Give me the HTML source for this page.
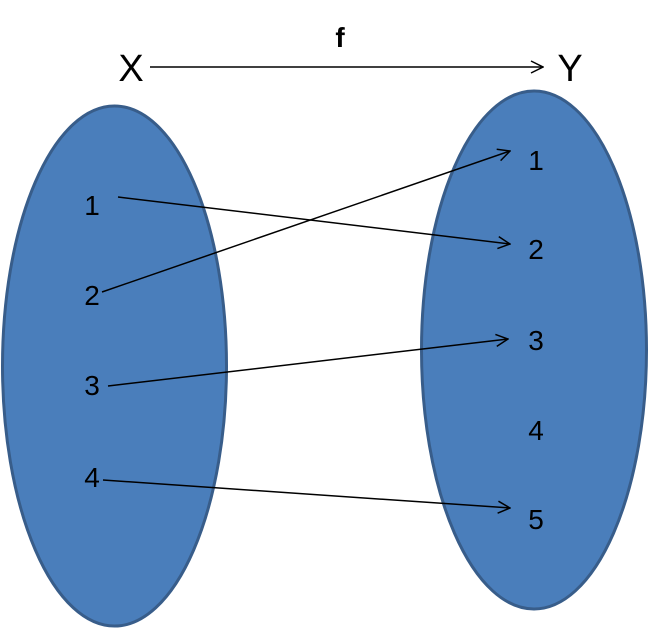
<!DOCTYPE html>
<html><head><style>body{margin:0;background:#fff}</style></head><body>
<svg width="649" height="629" xmlns="http://www.w3.org/2000/svg" font-family="Liberation Sans, sans-serif">
<defs><marker id="a" markerWidth="14" markerHeight="14" refX="13" refY="7" orient="auto" markerUnits="userSpaceOnUse"><path d="M1,1 L13,7 L1,13" fill="none" stroke="#000" stroke-width="1.5"/></marker></defs>
<ellipse cx="114.5" cy="366" rx="112" ry="260" fill="#4a7ebb" stroke="#385d8a" stroke-width="3"/>
<ellipse cx="534" cy="350" rx="112.5" ry="259" fill="#4a7ebb" stroke="#385d8a" stroke-width="3"/>
<g stroke="#000" stroke-width="1.5" fill="none" marker-end="url(#a)">
<line x1="150" y1="67" x2="543" y2="67"/>
<line x1="118" y1="197" x2="510" y2="244"/>
<line x1="102" y1="292" x2="510" y2="151"/>
<line x1="108" y1="386" x2="508" y2="339"/>
<line x1="103" y1="480" x2="510" y2="508"/>
</g>
<g font-size="28" text-anchor="middle" fill="#000">
<text x="92" y="215">1</text><text x="92" y="305">2</text><text x="92" y="395">3</text><text x="92" y="487">4</text>
<text x="536" y="170">1</text><text x="536" y="259">2</text><text x="536" y="350">3</text><text x="536" y="440">4</text><text x="536" y="529">5</text>
</g>
<text x="131" y="81" font-size="38" text-anchor="middle">X</text>
<text x="570" y="81" font-size="38" text-anchor="middle">Y</text>
<text x="340" y="47" font-size="28" font-weight="bold" text-anchor="middle">f</text>
</svg>
</body></html>
